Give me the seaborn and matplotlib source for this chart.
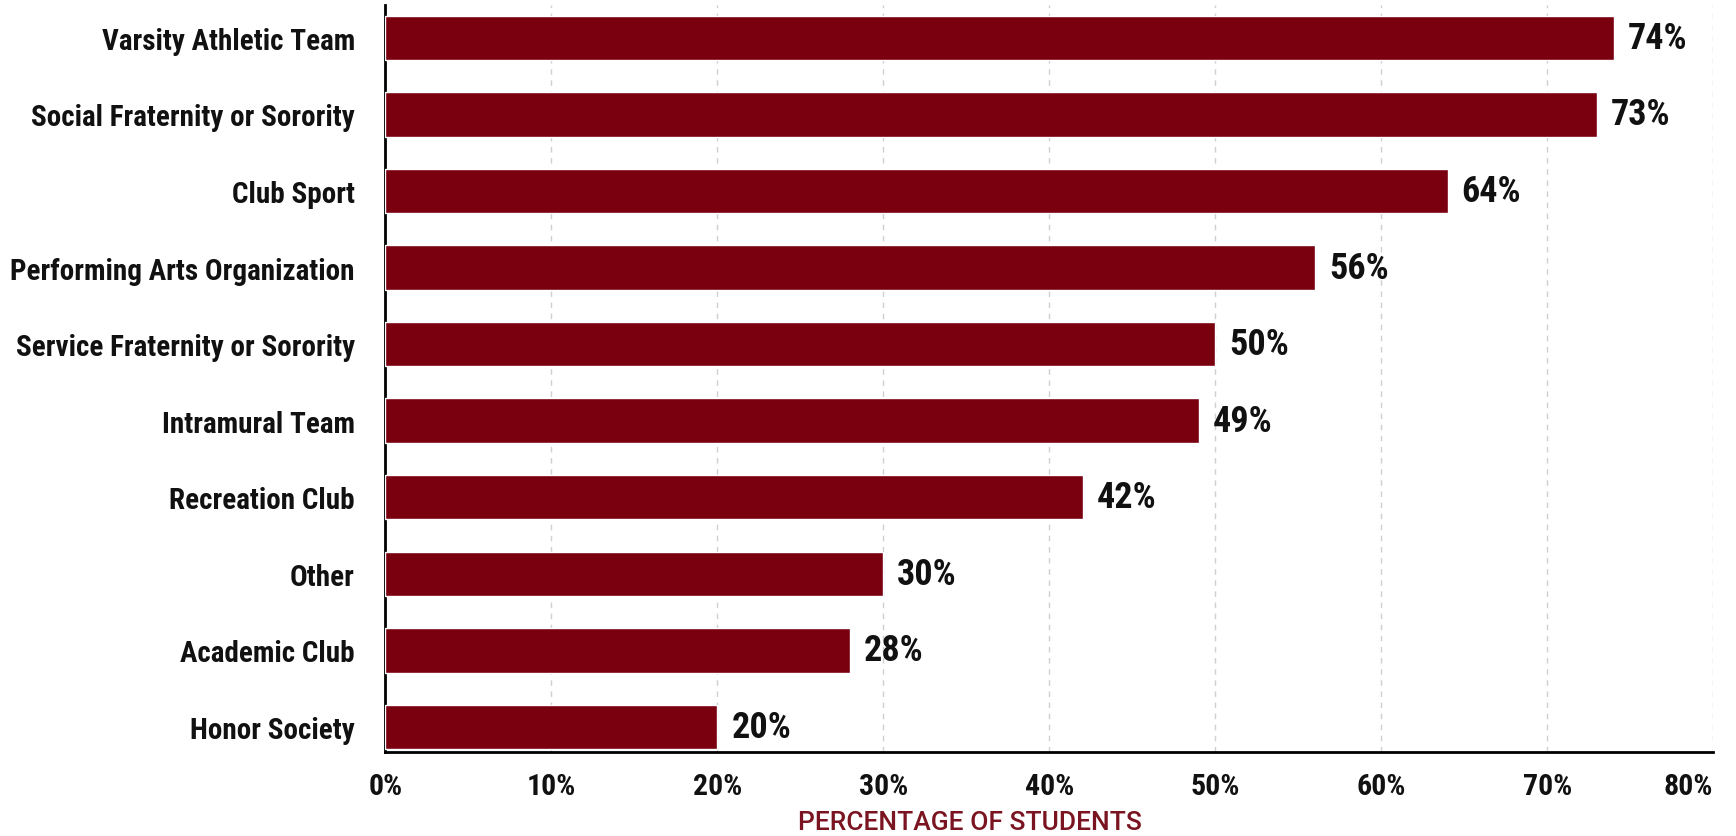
import matplotlib
matplotlib.use("Agg")
import matplotlib.pyplot as plt
from matplotlib import font_manager
import seaborn as sns
import pandas as pd

categories = ["Varsity Athletic Team", "Social Fraternity or Sorority", "Club Sport",
              "Performing Arts Organization", "Service Fraternity or Sorority",
              "Intramural Team", "Recreation Club", "Other", "Academic Club", "Honor Society"]
values = [74, 73, 64, 56, 50, 49, 42, 30, 28, 20]
xticks = [0, 10, 20, 30, 40, 50, 60, 70, 80]
xlabel = "PERCENTAGE OF STUDENTS"

sns.set_theme(style="white")
names = {f.name for f in font_manager.fontManager.ttflist}
fam = "DejaVu Sans"
for cand in ["Roboto Condensed", "Liberation Sans Narrow", "Open Sans Condensed",
             "DejaVu Sans Condensed", "Roboto"]:
    if cand in names:
        fam = cand
        break
fam2 = "Roboto" if "Roboto" in names else fam
plt.rcParams["font.family"] = [fam, "DejaVu Sans"]

df = pd.DataFrame({"cat": categories, "val": values})
bar_color = "#7a0010"

fig = plt.figure(figsize=(17.36, 8.37), dpi=100)
ax = fig.add_axes([0.222, 0.100, 0.765, 0.893])
sns.barplot(data=df, x="val", y="cat", color=bar_color, width=0.58, ax=ax,
            saturation=1, zorder=3)

ax.set_xlim(0, 80)
ax.set_ylim(9.33, -0.43)
ax.set_xticks(xticks)
ax.set_xticklabels([f"{t}%" for t in xticks], fontsize=21.5, fontweight="semibold",
                   color="#111111")
ax.get_xticklabels()[-1].set_horizontalalignment("right")
for lab in ax.get_yticklabels():
    lab.set_fontsize(21)
    lab.set_fontweight("bold")
    lab.set_color("#111111")
ax.tick_params(axis="x", length=0, pad=14)
ax.tick_params(axis="y", length=0, pad=22)
ax.set_ylabel("")
ax.set_xlabel("")
fig.text(0.222 + 0.765 * 0.44, 0.002, xlabel, ha="center", va="bottom",
         fontsize=19, color="#7a1420", fontweight="medium", family=[fam2, "DejaVu Sans"])

for x in xticks[1:]:
    ax.axvline(x, color="#d0d0d0", lw=1, ls=(0, (4, 4)), zorder=1)

for s in ["top", "right"]:
    ax.spines[s].set_visible(False)
for s in ["left", "bottom"]:
    ax.spines[s].set_color("black")
    ax.spines[s].set_linewidth(2)

for i, v in enumerate(values):
    ax.annotate(f"{v}%", xy=(v, i), xytext=(10, 0), textcoords="offset points",
                va="center", ha="left", fontsize=26, fontweight="bold", color="#111111")

fig.savefig("out.png", dpi=100)
